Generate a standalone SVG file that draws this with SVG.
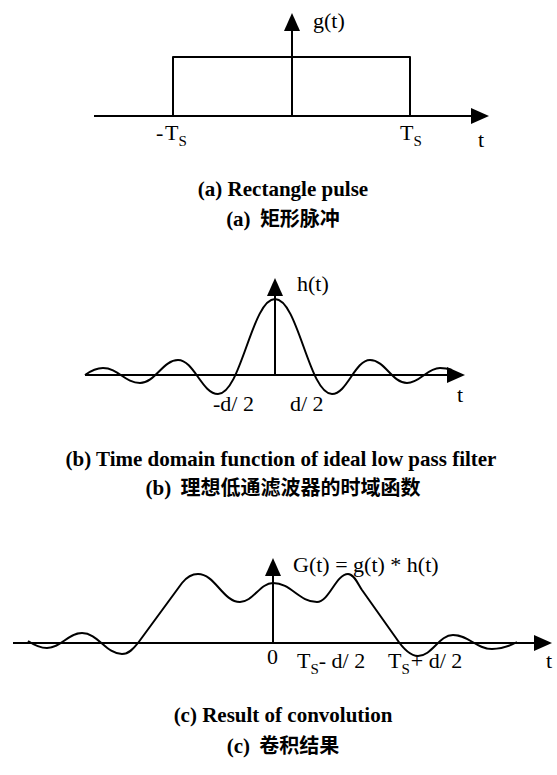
<svg xmlns="http://www.w3.org/2000/svg" width="557" height="775" viewBox="0 0 557 775">
<style>
.ax{stroke:#000;stroke-width:2;fill:none;marker-end:url(#arr)}
.cv{stroke:#000;stroke-width:2;fill:none;stroke-linejoin:round}
.lb{font-family:"Liberation Serif","Times New Roman",serif;font-size:22px;fill:#000}
.sub{font-size:15px}
.cap{font-family:"Liberation Serif","Times New Roman",serif;font-size:21px;font-weight:bold;fill:#000;text-anchor:middle}
.cjk{font-family:"Noto Sans CJK SC","Noto Sans CJK JP",sans-serif;font-weight:bold;font-size:20px}
</style>
<defs>
<marker id="arr" viewBox="0 0 18 16" refX="8" refY="8" markerWidth="18" markerHeight="16" markerUnits="userSpaceOnUse" orient="auto">
<path d="M0,0 L18,8 L0,16 Z" fill="#000"/>
</marker>
</defs>

<g id="panel-a">
<g id="connectors-a">
<line class="ax" x1="94" y1="116" x2="479" y2="116"/>
<line class="ax" x1="292" y1="116" x2="292" y2="23"/>
</g>
<path id="pulse" class="cv" d="M173,116 V57 H410 V116"/>
<text class="lb" x="313" y="28">g(t)</text>
<text class="lb" x="156" y="140">-<tspan x="165">T</tspan><tspan class="sub" dy="6">S</tspan></text>
<text class="lb" x="400" y="140">T<tspan class="sub" dy="6">S</tspan></text>
<text class="lb" x="478" y="147">t</text>
<text class="cap" x="283" y="196">(a) Rectangle pulse</text>
<text class="cap" x="283" y="226">(a) <tspan class="cjk" dx="4">矩形脉冲</tspan></text>
</g>

<g id="panel-b">
<g id="connectors-b">
<line class="ax" x1="85" y1="375" x2="455" y2="375"/>
<line class="ax" x1="275" y1="375" x2="275" y2="288"/>
</g>
<path id="sinc" class="cv" d="M85,375 C92,370 97,368 103,368 C118,368 125,383 140,383 C155,383 163,360 178,360 C194,360 202,394 218,394 C241,394 252,299 275,299 C298,299 309,394 332,394 C347,394 355,360 370,360 C385,360 392,383 407,383 C420,383 427,368 440,368 C445,368 449,369 452,370"/>
<text class="lb" x="297" y="291">h(t)</text>
<text class="lb" x="213" y="411">-d/ 2</text>
<text class="lb" x="290" y="411">d/ 2</text>
<text class="lb" x="457" y="402">t</text>
<text class="cap" x="281" y="466">(b) Time domain function of ideal low pass filter</text>
<text class="cap" x="283" y="495">(b) <tspan class="cjk" dx="4">理想低通滤波器的时域函数</tspan></text>
</g>

<g id="panel-c">
<g id="connectors-c">
<line class="ax" x1="13" y1="643" x2="542" y2="643"/>
<line class="ax" x1="273" y1="643" x2="273" y2="568"/>
</g>
<path id="conv" class="cv" d="M28,641 C34,645 40,648 47,648 C61,648 68,633 82,633 C98,633 106,654 122,654 C129,654 134,648 138,643 L182,583 C186,578 191,574 198,574 C215,574 223,602 240,602 C253,602 260,583 273,583 C291,583 299,602 317,602 C329,602 336,574 348,574 C354,574 358,584 362,590 L396,638 C400,644 408,656 418,656 C432,656 439,635 453,635 C469,635 476,649 492,649 C502,649 510,646 517,642"/>
<text class="lb" x="293" y="572">G(t) = g(t) * h(t)</text>
<text class="lb" x="267" y="664">0</text>
<text class="lb" x="297" y="668">T<tspan class="sub" dy="6">S</tspan><tspan dy="-6">- d/ 2</tspan></text>
<text class="lb" x="388" y="668">T<tspan class="sub" dy="6">S</tspan><tspan dy="-6" dx="1">+ d/ 2</tspan></text>
<text class="lb" x="546" y="668">t</text>
<text class="cap" x="283" y="722">(c) Result of convolution</text>
<text class="cap" x="283" y="753">(c) <tspan class="cjk" dx="4">卷积结果</tspan></text>
</g>
</svg>
